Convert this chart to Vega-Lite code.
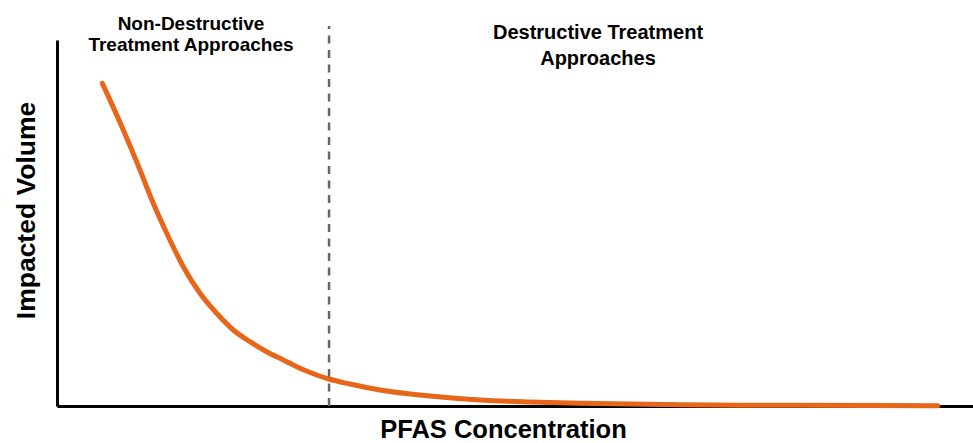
{
  "$schema": "https://vega.github.io/schema/vega-lite/v6.json",
  "width": 916,
  "height": 366,
  "autosize": "none",
  "padding": {"left": 57, "top": 40, "right": 0, "bottom": 37},
  "background": "white",
  "config": {"view": {"stroke": null}, "font": "Liberation Sans"},
  "datasets": {
    "curve": [
      {"c": 4.95, "v": 88.17},
      {"c": 7.24, "v": 75.41},
      {"c": 9.06, "v": 64.48},
      {"c": 10.51, "v": 55.38},
      {"c": 11.98, "v": 47.19},
      {"c": 13.79, "v": 38.06},
      {"c": 15.61, "v": 30.79},
      {"c": 17.43, "v": 25.33},
      {"c": 19.25, "v": 20.77},
      {"c": 21.07, "v": 17.57},
      {"c": 22.89, "v": 14.84},
      {"c": 24.71, "v": 12.57},
      {"c": 26.53, "v": 10.30},
      {"c": 28.35, "v": 8.47},
      {"c": 29.69, "v": 7.38},
      {"c": 31.99, "v": 6.01},
      {"c": 35.26, "v": 4.37},
      {"c": 40.72, "v": 2.73},
      {"c": 46.18, "v": 1.64},
      {"c": 51.64, "v": 1.09},
      {"c": 57.10, "v": 0.74},
      {"c": 68.01, "v": 0.35},
      {"c": 81.11, "v": 0.18},
      {"c": 96.18, "v": 0.1}
    ],
    "divider": [{"c": 29.7, "v0": 0, "v1": 103.8}],
    "labelsLeft": [
      {"c": 14.63, "v": 102.60, "t": "Non-Destructive"},
      {"c": 14.63, "v": 97.13, "t": "Treatment Approaches"}
    ],
    "labelsRight": [
      {"c": 59.06, "v": 100.19, "t": "Destructive Treatment"},
      {"c": 59.06, "v": 93.17, "t": "Approaches"}
    ]
  },
  "layer": [
    {
      "data": {"name": "divider"},
      "mark": {"type": "rule", "color": "#666666", "strokeWidth": 2.5, "strokeDash": [8, 6.5]},
      "encoding": {
        "x": {"field": "c", "type": "quantitative", "scale": {"domain": [0, 100]}},
        "y": {"field": "v0", "type": "quantitative", "scale": {"domain": [0, 100]}},
        "y2": {"field": "v1"}
      }
    },
    {
      "data": {"name": "curve"},
      "mark": {"type": "line", "color": "#E8661A", "strokeWidth": 5, "interpolate": "monotone", "strokeCap": "round"},
      "encoding": {
        "x": {
          "field": "c", "type": "quantitative", "scale": {"domain": [0, 100], "nice": false},
          "axis": {
            "title": "PFAS Concentration", "labels": false, "ticks": false, "grid": false,
            "domainColor": "black", "domainWidth": 3,
            "titleFontSize": 25.5, "titleFontWeight": "bold", "titleColor": "black",
            "titleX": 446, "titleY": 31, "titleAlign": "center", "titleBaseline": "alphabetic"
          }
        },
        "y": {
          "field": "v", "type": "quantitative", "scale": {"domain": [0, 100], "nice": false},
          "axis": {
            "title": "Impacted Volume", "labels": false, "ticks": false, "grid": false,
            "domainColor": "black", "domainWidth": 3,
            "titleFontSize": 26.5, "titleFontWeight": "bold", "titleColor": "black",
            "titleAngle": 270, "titleX": -23, "titleY": 170, "titleAlign": "center", "titleBaseline": "alphabetic"
          }
        }
      }
    },
    {
      "data": {"name": "labelsLeft"},
      "mark": {"type": "text", "fontSize": 19, "fontWeight": "bold", "color": "black", "align": "center", "baseline": "alphabetic"},
      "encoding": {
        "x": {"field": "c", "type": "quantitative"},
        "y": {"field": "v", "type": "quantitative"},
        "text": {"field": "t"}
      }
    },
    {
      "data": {"name": "labelsRight"},
      "mark": {"type": "text", "fontSize": 20, "fontWeight": "bold", "color": "black", "align": "center", "baseline": "alphabetic"},
      "encoding": {
        "x": {"field": "c", "type": "quantitative"},
        "y": {"field": "v", "type": "quantitative"},
        "text": {"field": "t"}
      }
    }
  ]
}
